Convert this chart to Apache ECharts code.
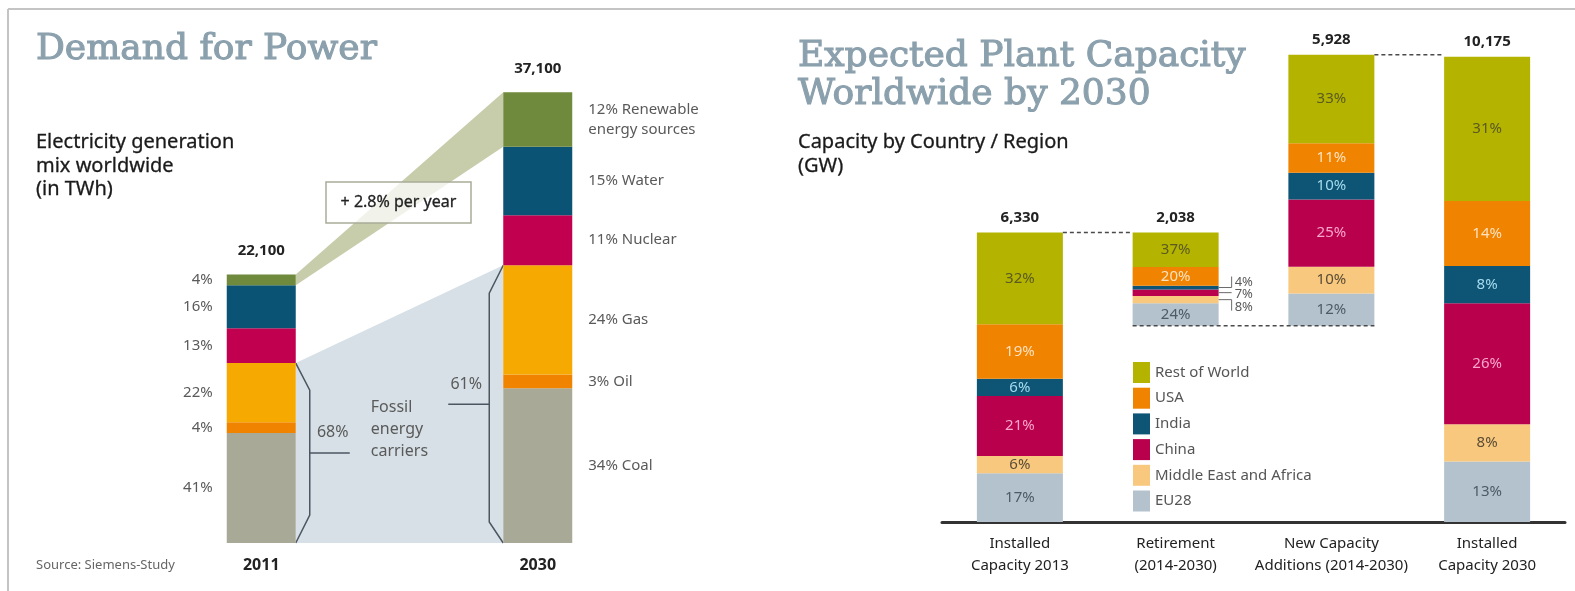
<!DOCTYPE html>
<html><head><meta charset="utf-8">
<script src="https://cdn.jsdelivr.net/npm/echarts@6/dist/echarts.min.js"></script>
<style>html,body{margin:0;padding:0;background:#fff}#c{width:1575px;height:591px}</style>
</head><body><div id="c"></div>
<script>
// ---------- Data: Demand for Power ----------
const years = ['2011', '2030'];
const demandTotals = [22100, 37100];
const sources = ['Renewable energy sources', 'Water', 'Nuclear', 'Gas', 'Oil', 'Coal']; // top to bottom
const sourceLabels2030 = ['12% Renewable\nenergy sources', '15% Water', '11% Nuclear', '24% Gas', '3% Oil', '34% Coal'];
const pct2011 = [4, 16, 13, 22, 4, 41];
const pct2030 = [12, 15, 11, 24, 3, 34];
const fossilLabels = ['68%', '61%'];
const growthLabel = '+ 2.8% per year';

// ---------- Data: Expected Plant Capacity ----------
const capCategories = ['Installed\nCapacity 2013', 'Retirement\n(2014-2030)', 'New Capacity\nAdditions (2014-2030)', 'Installed\nCapacity 2030'];
const capTotals = [6330, 2038, 5928, 10175];
const capTotalLabels = ['6,330', '2,038', '5,928', '10,175'];
const regions = ['Rest of World', 'USA', 'India', 'China', 'Middle East and Africa', 'EU28']; // top to bottom
const pctRoW = [32, 37, 33, 31];
const pctUSA = [19, 20, 11, 14];
const pctIndia = [6, 4, 10, 8];
const pctChina = [21, 7, 25, 26];
const pctMEA = [6, 8, 10, 8];
const pctEU = [17, 24, 12, 13];
const retirementCallouts = ['India', 'China', 'Middle East and Africa'];

// ---------- Styles ----------
const FONT = 'Noto Sans';
const sourceColors = ['#6f8a3c', '#0b5375', '#c1004f', '#f6a900', '#f08300', '#a9a998'];
const regionColors = ['#b4b400', '#f08300', '#0e5575', '#b9004d', '#f8c87e', '#b3c2cc'];
const regionLabelColors = ['#5a5a22', '#fde2bf', '#a5dbee', '#f8a6cb', '#5a4c36', '#4d5b66'];
const LBW = 69, RBW = 86;
const TITLE_COLOR = '#8ba0ad';

const sum = a => a.reduce((s, v) => s + v, 0);
const demandPct = [pct2011, pct2030];
const demandVal = sources.map((s, k) => years.map((y, i) => demandTotals[i] * demandPct[i][k] / sum(demandPct[i])));
const regionPct = [pctRoW, pctUSA, pctIndia, pctChina, pctMEA, pctEU];
const capSums = capTotals.map((t, c) => sum(regionPct.map(a => a[c])));
const capVal = regions.map((r, k) => capTotals.map((t, c) => t * regionPct[k][c] / capSums[c]));
const retireBase = capTotals[0] - capTotals[1];
const capBase = [0, retireBase, retireBase, 0];

const series = [];
// Left stacked bars (bottom first)
for (let k = sources.length - 1; k >= 0; k--) {
  series.push({
    type: 'bar', name: sources[k], stack: 'demand', xAxisIndex: 0, yAxisIndex: 0,
    barWidth: LBW, z: 2,
    itemStyle: { color: sourceColors[k] },
    data: [
      { value: demandVal[k][0], label: { show: true, position: 'left', distance: 14, formatter: pct2011[k] + '%', color: '#5a5a5a', fontSize: 15, fontFamily: FONT } },
      { value: demandVal[k][1], label: { show: true, position: 'right', distance: 16, align: 'left', lineHeight: 20, formatter: sourceLabels2030[k], color: '#5a5a5a', fontSize: 15, fontFamily: FONT } }
    ]
  });
}
// Left annotations: bands, brackets, totals
series.push({
  type: 'custom', xAxisIndex: 0, yAxisIndex: 0, z: 1, silent: true,
  data: [[0, 0]],
  renderItem: function (params, api) {
    const hw = LBW / 2;
    const x0 = api.coord([0, 0])[0] + hw;   // right edge of 2011 bar
    const x1 = api.coord([1, 0])[0] - hw;   // left edge of 2030 bar
    const y = v => api.coord([0, v])[1];
    const ren = [demandVal[0][0], demandVal[0][1]];
    const fos = [0, 1].map(i => demandVal[3][i] + demandVal[4][i] + demandVal[5][i]);
    const y0 = y(0);
    const ym0 = (y(fos[0]) + y0) / 2, ym1 = (y(fos[1]) + y0) / 2;
    const lc = '#4b5661';
    const txt = (t, x, yy, o) => ({ type: 'text', x: x, y: yy, z2: 10, style: Object.assign({ text: t, fill: '#5a5a5a', font: '15px "' + FONT + '"', textAlign: 'center', textVerticalAlign: 'middle' }, o || {}) });
    return {
      type: 'group', children: [
        { type: 'polygon', shape: { points: [[x0, y(demandTotals[0])], [x1, y(demandTotals[1])], [x1, y(demandTotals[1] - ren[1])], [x0, y(demandTotals[0] - ren[0])]] }, style: { fill: '#c7cdab' } },
        { type: 'polygon', shape: { points: [[x0, y(fos[0])], [x1, y(fos[1])], [x1, y0], [x0, y0]] }, style: { fill: '#d6e0e6' } },
        { type: 'polyline', shape: { points: [[x0, y(fos[0])], [x0 + 14, y(fos[0]) + 27], [x0 + 14, y0 - 28], [x0, y0]] }, style: { stroke: lc, lineWidth: 1.5, fill: null } },
        { type: 'line', shape: { x1: x0 + 14, y1: ym0, x2: x0 + 54, y2: ym0 }, style: { stroke: lc, lineWidth: 1.5 } },
        { type: 'polyline', shape: { points: [[x1, y(fos[1])], [x1 - 14, y(fos[1]) + 28], [x1 - 14, y0 - 21], [x1, y0]] }, style: { stroke: lc, lineWidth: 1.5, fill: null } },
        { type: 'line', shape: { x1: x1 - 14, y1: ym1, x2: x1 - 55, y2: ym1 }, style: { stroke: lc, lineWidth: 1.5 } },
        txt(fossilLabels[0], x0 + 37, ym0 - 21, { font: '16px "' + FONT + '"' }),
        txt(fossilLabels[1], x1 - 37, ym1 - 20, { font: '16px "' + FONT + '"' }),
        txt('Fossil\nenergy\ncarriers', x0 + 75, ym0 - 24, { textAlign: 'left', font: '16px "' + FONT + '"', lineHeight: 22 }),
        txt(demandTotals[0].toLocaleString('en-US'), api.coord([0, 0])[0], y(demandTotals[0]) - 24, { fill: '#222', font: 'bold 15px "' + FONT + '"' }),
        txt(demandTotals[1].toLocaleString('en-US'), api.coord([1, 0])[0], y(demandTotals[1]) - 24, { fill: '#222', font: 'bold 15px "' + FONT + '"' })
      ]
    };
  }
});

// Right stacked bars: invisible base then regions bottom first
series.push({
  type: 'bar', name: 'base', stack: 'cap', xAxisIndex: 1, yAxisIndex: 1, barWidth: RBW,
  itemStyle: { color: 'rgba(0,0,0,0)' }, silent: true, data: capBase
});
for (let k = regions.length - 1; k >= 0; k--) {
  series.push({
    type: 'bar', name: regions[k], stack: 'cap', xAxisIndex: 1, yAxisIndex: 1, barWidth: RBW, z: 2,
    itemStyle: { color: regionColors[k] },
    data: capVal[k].map((v, c) => ({
      value: v,
      label: {
        show: !(c === 1 && retirementCallouts.includes(regions[k])),
        position: 'inside', formatter: regionPct[k][c] + '%',
        color: regionLabelColors[k], fontSize: 15, fontFamily: FONT
      }
    }))
  });
}
// Right annotations
series.push({
  type: 'custom', xAxisIndex: 1, yAxisIndex: 1, z: 3, silent: true,
  data: [[0, 0]],
  renderItem: function (params, api) {
    const hw = RBW / 2;
    const cx = i => api.coord([i, 0])[0];
    const y = v => api.coord([0, v])[1];
    const dash = { stroke: '#4a4a4a', lineWidth: 1.5, lineDash: [4, 3] };
    const tops = capTotals.map((t, c) => capBase[c] + t);
    const children = [
      { type: 'line', shape: { x1: cx(0) + hw, y1: y(tops[0]), x2: cx(1) - hw, y2: y(tops[0]) }, style: dash },
      { type: 'line', shape: { x1: cx(1) - hw, y1: y(capBase[1]), x2: cx(2) + hw, y2: y(capBase[1]) }, style: dash },
      { type: 'line', shape: { x1: cx(2) + hw, y1: y(tops[2]), x2: cx(3) - hw, y2: y(tops[2]) }, style: dash }
    ];
    capTotalLabels.forEach((t, c) => children.push({
      type: 'text', x: cx(c), y: y(tops[c]) - 15,
      style: { text: t, fill: '#222', font: 'bold 15px "' + FONT + '"', textAlign: 'center', textVerticalAlign: 'middle' }
    }));
    // callouts for retirement small segments
    const R = cx(1) + hw;
    let acc = capBase[1];
    const centers = {};
    for (let k = regions.length - 1; k >= 0; k--) {
      centers[regions[k]] = y(acc + capVal[k][1] / 2);
      acc += capVal[k][1];
    }
    const lc = { stroke: '#6a6a6a', lineWidth: 1, fill: null };
    const tf = '13px "' + FONT + '"';
    const yI = centers['India'], yC = centers['China'], yM = centers['Middle East and Africa'];
    children.push(
      { type: 'polyline', shape: { points: [[R, yI], [R + 13, yI], [R + 13, yI - 11]] }, style: lc },
      { type: 'line', shape: { x1: R, y1: yC, x2: R + 13, y2: yC }, style: lc },
      { type: 'polyline', shape: { points: [[R, yM], [R + 13, yM], [R + 13, yM + 11]] }, style: lc },
      { type: 'text', x: R + 16, y: yI - 5, style: { text: pctIndia[1] + '%', fill: '#5a5a5a', font: tf, textVerticalAlign: 'middle' } },
      { type: 'text', x: R + 16, y: yC + 2, style: { text: pctChina[1] + '%', fill: '#5a5a5a', font: tf, textVerticalAlign: 'middle' } },
      { type: 'text', x: R + 16, y: yM + 8, style: { text: pctMEA[1] + '%', fill: '#5a5a5a', font: tf, textVerticalAlign: 'middle' } }
    );
    return { type: 'group', children: children };
  }
});

const option = {
  animation: false,
  backgroundColor: '#fff',
  textStyle: { fontFamily: FONT },
  grid: [
    { left: 123, width: 553, top: 57, bottom: 48 },
    { left: 942, right: 10, top: 19, bottom: 69 }
  ],
  xAxis: [
    { type: 'category', gridIndex: 0, data: years, axisLine: { show: false }, axisTick: { show: false },
      axisLabel: { fontWeight: 'bold', fontSize: 16, color: '#222', margin: 14, fontFamily: FONT } },
    { type: 'category', gridIndex: 1, data: capCategories, axisLine: { show: true, lineStyle: { color: '#333', width: 3 } }, axisTick: { show: false },
      axisLabel: { fontSize: 15, color: '#222', margin: 11, lineHeight: 22, fontFamily: FONT, interval: 0 } }
  ],
  yAxis: [
    { type: 'value', gridIndex: 0, min: 0, max: 40000, show: false },
    { type: 'value', gridIndex: 1, min: 0, max: 11000, show: false }
  ],
  legend: {
    data: regions, orient: 'vertical', left: 1133, top: 362, padding: 0, itemWidth: 17, itemHeight: 21, itemGap: 4.7,
    icon: 'rect', textStyle: { fontSize: 15, color: '#555', fontFamily: FONT }, selectedMode: false
  },
  graphic: [
    { type: 'line', shape: { x1: 8, y1: 9, x2: 1575, y2: 9 }, style: { stroke: '#c4c4c4', lineWidth: 2 } },
    { type: 'line', shape: { x1: 8, y1: 9, x2: 8, y2: 591 }, style: { stroke: '#c4c4c4', lineWidth: 2 } },
    { type: 'text', x: 36, y: 50, style: { text: 'Demand for Power', fill: TITLE_COLOR, stroke: TITLE_COLOR, lineWidth: 1.1, font: '36px "DejaVu Serif"', textVerticalAlign: 'middle' } },
    { type: 'text', x: 36, y: 131, style: { text: 'Electricity generation\nmix worldwide\n(in TWh)', fill: '#1a1a1a', stroke: '#1a1a1a', lineWidth: 0.3, font: '20px "' + FONT + '"', lineHeight: 23.5, textVerticalAlign: 'top' } },
    { type: 'text', x: 798, y: 38, style: { text: 'Expected Plant Capacity\nWorldwide by 2030', fill: TITLE_COLOR, stroke: TITLE_COLOR, lineWidth: 1.1, font: '36px "DejaVu Serif"', lineHeight: 38, textVerticalAlign: 'top' } },
    { type: 'text', x: 798, y: 131, style: { text: 'Capacity by Country / Region\n(GW)', fill: '#1a1a1a', stroke: '#1a1a1a', lineWidth: 0.3, font: '20px "' + FONT + '"', lineHeight: 23.5, textVerticalAlign: 'top' } },
    { type: 'rect', z: 10, shape: { x: 326, y: 182, width: 145, height: 41 }, style: { fill: 'rgba(255,255,255,0.75)', stroke: '#a9ac98', lineWidth: 1.5 } },
    { type: 'text', z: 11, x: 398.5, y: 202.5, style: { text: growthLabel, fill: '#222', stroke: '#222', lineWidth: 0.3, font: '16px "' + FONT + '"', textAlign: 'center', textVerticalAlign: 'middle' } },
    { type: 'text', x: 36, y: 565, style: { text: 'Source: Siemens-Study', fill: '#666', font: '13px "' + FONT + '"', textVerticalAlign: 'middle' } }
  ],
  series: series
};
const chart = echarts.init(document.getElementById('c'));
chart.setOption(option);
</script>
</body></html>
